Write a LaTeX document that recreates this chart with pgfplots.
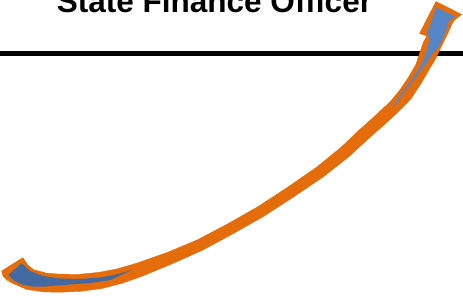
\documentclass[border=0pt]{standalone}
\usepackage{pgfplots}
\pgfplotsset{compat=1.18}
\usepackage{fontspec}
\setmainfont{Liberation Sans}
\definecolor{arrOrange}{RGB}{228,108,10}
\definecolor{arrBlueT}{RGB}{66,106,160}
\definecolor{arrBlueH}{RGB}{84,134,200}
\begin{document}
\begin{tikzpicture}
\path[use as bounding box] (0,0) rectangle (463pt,297pt);
\begin{axis}[at={(0,0)}, anchor=south west, scale only axis,
  width=463pt, height=297pt, xmin=0, xmax=463, ymin=0, ymax=297,
  y dir=reverse, hide axis, clip=false]
% horizontal rule
\addplot[black, line width=5pt] coordinates {(0,53.3) (463,53.3)};
% arrow outline (orange body)
\addplot[fill=arrOrange, draw=arrOrange, line width=0.4pt, line join=round] coordinates {
(22.7,257.7) (27.8,264.9) (33.4,269.6) (46.2,273.1) (60,274.2) (79.4,274.3)
(98.6,272.4) (118,268.7) (137.6,262.9) (167.7,252.3) (197.5,239.8) (227.3,224.1)
(257.1,207.2) (286.8,187.8) (316.5,167.3) (341,147.4) (357.7,131.4) (375.7,115.3)
(390.4,101.4) (399.4,90.7) (409.1,76.3) (415.8,64.8) (420.2,51.6) (423.6,41.7)
(427,36) (419.5,33.5) (436,1.5) (461.7,14.5) (454,20.5) (451.5,25) (448.5,32)
(444.5,40) (440.4,48.3) (435.8,58.4) (428.2,71.2) (420.9,83.7) (410.6,99.3)
(399.6,110.6) (384.3,124.7) (366.3,140.6) (349,156.6) (323.5,176.7) (293.2,197.2)
(262.9,216.8) (232.7,233.9) (202.5,250.2) (172.3,263.7) (142.4,276.1) (122,283.3)
(101.4,288.6) (80.6,291.3) (60,292.2) (43.8,291.9) (26.6,289.4) (12.2,283.1)
(7,280) (3,276) (1.7,271)
} -- cycle;
% blue fill, tail part
\addplot[fill=arrBlueT, draw=none] coordinates {
(8.3,275) (21.7,263.3) (30,271) (43,276) (60,278.5) (80,279) (100,277.5)
(115,274.8) (132,270) (110,280.2) (90,283) (60,285.2) (45,286.5) (33,286.7)
(22,284.5) (14,280.5)
} -- cycle;
% blue fill, head part
\addplot[fill=arrBlueH, draw=none] coordinates {
(436.5,7.5) (455,16.5) (449,21) (446.5,29) (443,38) (438.5,47) (431.5,55)
(425,65) (417,76) (407,89) (398,101) (392,108) (396,101) (405,89) (413,78)
(420,67) (425.7,55) (427.5,47) (430,39.5) (427,33.5)
} -- cycle;
\node[anchor=base, font=\fontsize{31.5}{36}\selectfont\bfseries, inner sep=0pt]
  at (axis cs:214.5,12.8) {State Finance Officer};
\end{axis}
\end{tikzpicture}
\end{document}
